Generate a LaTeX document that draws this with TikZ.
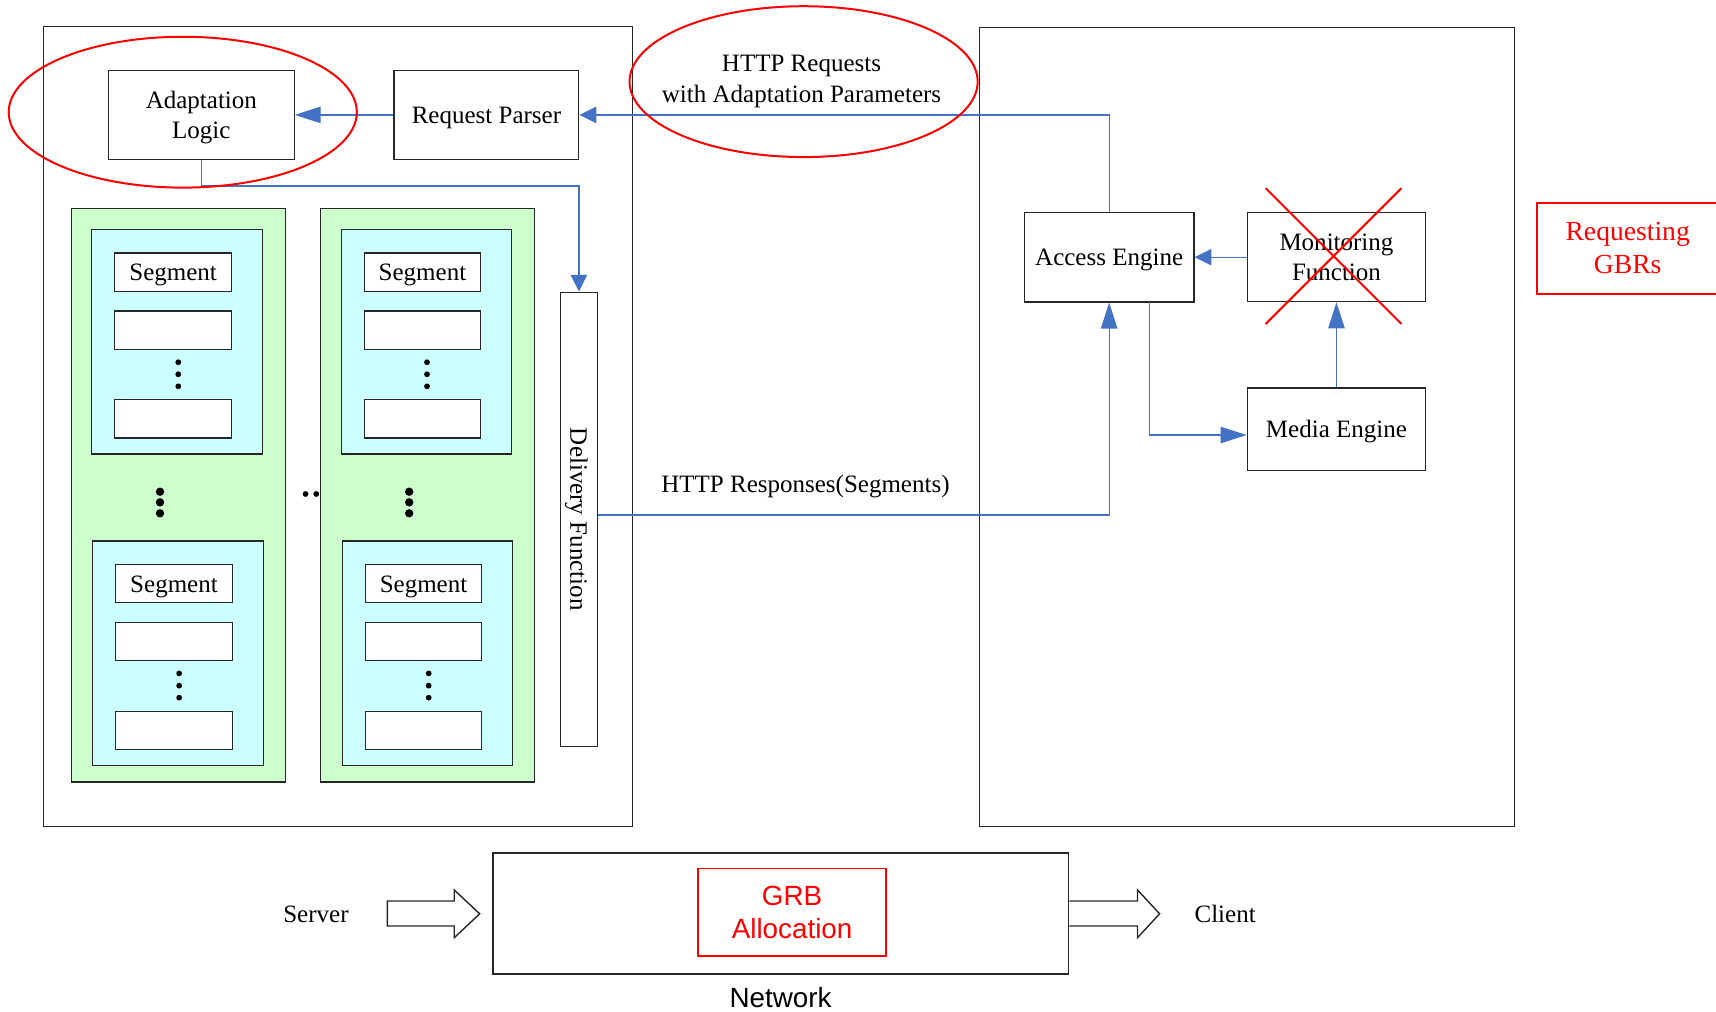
\documentclass[tikz,border=0pt]{standalone}
\usepackage{fontspec}
\setmainfont{Liberation Serif}
\setsansfont{Liberation Sans}
\usepackage{xcolor}
\usepackage{tikz}
\usetikzlibrary{arrows.meta}
\definecolor{lnblue}{RGB}{68,114,196}
\definecolor{repgreen}{RGB}{204,255,204}
\definecolor{segcyan}{RGB}{204,255,255}

\begin{document}
\begin{tikzpicture}[x=0.547pt,y=-0.547pt,
	every node/.style={font=\fontsize{12.5pt}{15.3pt}\selectfont,align=center,text depth=0pt},
	box/.style={draw=black!85,line width=0.6pt,inner sep=0pt},
	repbox/.style={box,fill=repgreen,minimum width=106.9pt,minimum height=286.5pt},
	setbox/.style={box,fill=segcyan,minimum width=85.3pt,minimum height=112.1pt},
	segbox/.style={box,fill=white,minimum width=58.3pt,minimum height=19.1pt},
	link/.style={lnblue,line width=0.6pt},
	longtip/.style={link,-{Triangle[length=13pt,width=8.2pt]}},
	shorttip/.style={link,-{Triangle[length=8.4pt,width=8.2pt]}},
	strike/.style={red,line width=1pt}]
		\useasboundingbox (0,0) rectangle (1568,924);
		% server and client frames
		\draw[black!85,line width=0.6pt] (40,24) rectangle (578,755);
		\draw[black!85,line width=0.6pt] (895,25) rectangle (1384,755);
		% server side
		\node[box,minimum width=92.7pt,minimum height=44.5pt] (adapt) at (184,105) {Adaptation\\Logic};
		\node[box,minimum width=92.4pt,minimum height=44.6pt] (parser) at (444.5,105) {Request Parser};
		\node[box,minimum width=18.6pt,minimum height=227pt] (deliv) at (529,474.5) {};
		\node[rotate=-90] (delivlbl) at (deliv.center) {Delivery Function};
		\node[repbox] (rep1) at (162.9,452.6) {};
		\node[repbox] (rep2) at (390.8,452.6) {};
		\node[setbox] (set1) at (161.6,312.4) {};
		\node[setbox] (set2) at (162.6,596.8) {};
		\node[setbox] (set3) at (389.7,312.4) {};
		\node[setbox] (set4) at (390.6,596.8) {};
		\node[segbox] (seg1a) at (158.2,248.7) {Segment};
		\node[segbox] (seg1b) at (158.2,301.7) {};
		\node[segbox] (seg1c) at (158.2,382.7) {};
		\node[segbox] (seg2a) at (159,533.4) {Segment};
		\node[segbox] (seg2b) at (159,586.2) {};
		\node[segbox] (seg2c) at (159,667.5) {};
		\node[segbox] (seg3a) at (386,248.7) {Segment};
		\node[segbox] (seg3b) at (386,301.7) {};
		\node[segbox] (seg3c) at (386,382.7) {};
		\node[segbox] (seg4a) at (387,533.4) {Segment};
		\node[segbox] (seg4b) at (387,586.2) {};
		\node[segbox] (seg4c) at (387,667.5) {};
		% dots
		\fill (162.9,331) circle (1.45pt) (162.9,342) circle (1.45pt) (162.9,353) circle (1.45pt);
		\fill (163.7,615.3) circle (1.45pt) (163.7,626.5) circle (1.45pt) (163.7,637.5) circle (1.45pt);
		\fill (390.2,331) circle (1.45pt) (390.2,342) circle (1.45pt) (390.2,353) circle (1.45pt);
		\fill (391.7,615.3) circle (1.45pt) (391.7,626.5) circle (1.45pt) (391.7,637.5) circle (1.45pt);
		\fill (146.2,449.3) circle (2.1pt) (146.2,459) circle (2.1pt) (146.2,469) circle (2.1pt);
		\fill (373.9,449.3) circle (2.1pt) (373.9,459) circle (2.1pt) (373.9,469) circle (2.1pt);
		\fill (279.2,451.4) circle (1.45pt) (289,451.4) circle (1.45pt);
		% client side
		\node[box,minimum width=84.8pt,minimum height=44.7pt] (access) at (1013.5,235) {Access Engine};
		\node[box,minimum width=89.2pt,minimum height=44.5pt] (monit) at (1221.2,235) {Monitoring\\Function};
		\node[box,minimum width=89.2pt,minimum height=41.2pt] (media) at (1221.2,392.2) {Media Engine};
		\node[draw=red,text=red,line width=1pt,inner sep=0pt,minimum width=91.1pt,minimum height=45.5pt,
			font=\fontsize{13.8pt}{16.6pt}\selectfont] (gbr) at (1487.3,226.8) {Requesting\\GBRs};
		% connectors
		\coordinate (bend) at (529,170);
		\coordinate (resp) at (546,470.6);
		\coordinate (aeout) at (1050,275.7);
		\draw[longtip] (parser.west) -- (adapt.east);
		\draw[shorttip] (access.north) |- (parser.east);
		\draw[shorttip] (adapt.south) |- (bend) -- (deliv.north);
		\draw[longtip] (resp) -| (access.south);
		\draw[shorttip] (monit.west) -- (access.east);
		\draw[longtip] (media.north) -- (monit.south);
		\draw[longtip] (aeout) |- ([yshift=-2.9pt]media.west);
		\node (reqlbl) at (732.4,72) {HTTP Requests\\with Adaptation Parameters};
		\node (resplbl) at (736,442) {HTTP Responses(Segments)};
		% red marks
		\draw[strike] (167,102.5) ellipse [x radius=87pt,y radius=37.7pt];
		\draw[strike] (734.3,74.6) ellipse [x radius=87pt,y radius=37.7pt];
		\draw[strike] (1156.5,172) -- (1280.5,296);
		\draw[strike] (1156.5,296) -- (1280.5,172);
		% network
		\node[box,line width=0.9pt,minimum width=287.6pt,minimum height=60.5pt] (net) at (713.5,835) {};
		\node[draw=red,text=red,line width=0.8pt,inner sep=0pt,minimum width=94.1pt,minimum height=43.8pt,
			font=\sffamily\fontsize{13.9pt}{16.4pt}\selectfont] (grb) at (723.8,833.5) {GRB\\Allocation};
		\node[anchor=base,font=\sffamily\fontsize{13.9pt}{16.4pt}\selectfont] (netlbl) at (713.2,920.5) {Network};
		\node (srvlbl) at (288.7,835) {Server};
		\node (clilbl) at (1119.5,835) {Client};
		\draw[black!85,line width=0.7pt] (353.9,823.3) -- (415.1,823.3) -- (415.1,813.2) -- (438.3,835)
			-- (415.1,856.8) -- (415.1,846.1) -- (353.9,846.1) -- cycle;
		\draw[black!85,line width=0.7pt] (net.east |- 0,823.3) -- (1039.4,823.3) -- (1039.4,813.2) -- (1059.6,835)
			-- (1039.4,856.8) -- (1039.4,846.1) -- (net.east |- 0,846.1);
	\end{tikzpicture}
\end{document}
